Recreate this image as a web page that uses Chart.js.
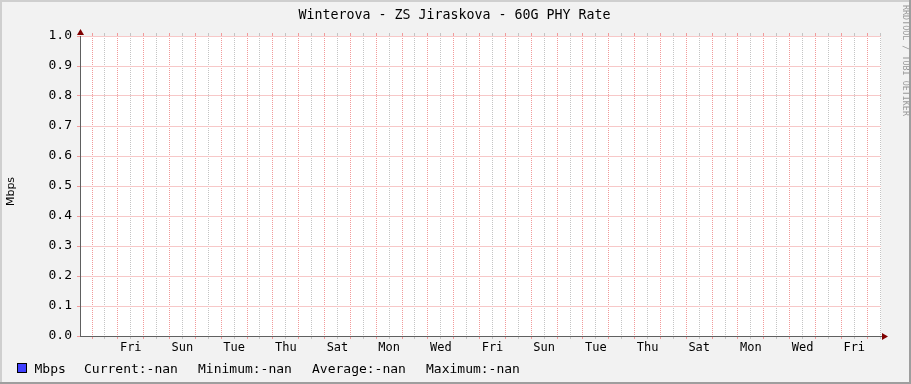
<!DOCTYPE html>
<html>
<head>
<meta charset="utf-8">
<script src="https://cdn.jsdelivr.net/npm/chart.js@4.4.1/dist/chart.umd.min.js"></script>
<style>
  html, body { margin: 0; padding: 0; background: #f2f2f2; overflow: hidden; }
  #wrap { width: 911px; height: 384px; }
</style>
</head>
<body>
<div id="wrap"><canvas id="rrdChart" width="911" height="384"></canvas></div>
<script>
// ── Data ────────────────────────────────────────────────
const chartTitle  = "Winterova - ZS Jiraskova - 60G PHY Rate";
const yAxisTitle  = "Mbps";
const watermark   = "RRDTOOL / TOBI OETIKER";
const rangeHours  = 744;     // 31 days on the x axis
const firstMidnightHour = 11.15; // first day boundary after graph start
const dayLabels   = ["Fri", "Sun", "Tue", "Thu", "Sat", "Mon", "Wed", "Fri",
                     "Sun", "Tue", "Thu", "Sat", "Mon", "Wed", "Fri"];
const yTickLabels = ["0.0", "0.1", "0.2", "0.3", "0.4", "0.5", "0.6", "0.7", "0.8", "0.9", "1.0"];
const sampleHours = [0, 186, 372, 558, 744];
const mbpsValues  = [null, null, null, null, null]; // no data -> nan
const legendName  = "Mbps";
const legendStats = ["Current:-nan", "Minimum:-nan", "Average:-nan", "Maximum:-nan"];

// ── Style ───────────────────────────────────────────────
const MONO       = "'DejaVu Sans Mono', monospace";
const majorColor = "#f19a9a";
const minorColor = "#c4c4c4";
const hGridColor = "#f7c8c8";
const axisColor  = "#606060";
const arrowColor = "#800000";

// 12h ticks: even = midnight (major), odd = noon (minor, maybe labelled)
const timeTicks = [];
for (let k = 0; firstMidnightHour + 12 * k <= rangeHours; k++) {
  const day = Math.floor(k / 2);
  let label = "";
  if (k % 2 === 1 && day >= 1 && (day - 1) % 2 === 0) label = dayLabels[(day - 1) / 2] || "";
  timeTicks.push({ value: firstMidnightHour + 12 * k, major: k % 2 === 0, label });
}

const setTimeTicks = (scale) => { scale.ticks = timeTicks.map(t => ({ value: t.value })); };
const tickColor = (c) => (timeTicks[c.index] && timeTicks[c.index].major) ? majorColor : minorColor;

// ── Decorations (frame, title, legend, arrows) ──────────
const rrdDecor = {
  id: "rrdDecor",
  beforeDraw(chart) {
    const { ctx, chartArea: a, width, height } = chart;
    ctx.save();
    ctx.fillStyle = "#f2f2f2";
    ctx.fillRect(0, 0, width, height);
    ctx.fillStyle = "#cfcfcf";
    ctx.fillRect(0, 0, width, 2);
    ctx.fillRect(0, 0, 2, height);
    ctx.fillStyle = "#9e9e9e";
    ctx.fillRect(width - 2, 0, 2, height);
    ctx.fillRect(0, height - 2, width, 2);
    ctx.fillStyle = "#ffffff";
    ctx.fillRect(a.left, a.top, a.right - a.left, a.bottom - a.top);
    ctx.restore();
  },
  afterDraw(chart) {
    const { ctx, chartArea: a } = chart;
    ctx.save();
    ctx.fillStyle = "#000";
    ctx.font = "13.3px " + MONO;
    ctx.textAlign = "center";
    ctx.textBaseline = "alphabetic";
    ctx.fillText(chartTitle, 454.5, 19);

    // y axis title
    ctx.save();
    ctx.translate(13.5, 191.5);
    ctx.rotate(-Math.PI / 2);
    ctx.font = "11px 'DejaVu Sans', sans-serif";
    ctx.textAlign = "center";
    ctx.fillText(yAxisTitle, 0, 0);
    ctx.restore();

    // watermark
    ctx.save();
    ctx.translate(905.5, 5);
    ctx.rotate(Math.PI / 2);
    ctx.font = "8.4px " + MONO;
    ctx.fillStyle = "#999999";
    ctx.textAlign = "left";
    ctx.textBaseline = "middle";
    ctx.fillText(watermark, 0, 0);
    ctx.restore();

    // arrows
    const ax = Math.round(a.left - 0.5) + 0.5;
    const ay = Math.round(a.bottom - 0.5) + 0.5;
    ctx.fillStyle = arrowColor;
    ctx.beginPath();
    ctx.moveTo(ax - 3.5, a.top - 1);
    ctx.lineTo(ax + 3.5, a.top - 1);
    ctx.lineTo(ax, a.top - 7);
    ctx.closePath();
    ctx.fill();
    ctx.beginPath();
    ctx.moveTo(a.right + 1, ay - 3.5);
    ctx.lineTo(a.right + 1, ay + 3.5);
    ctx.lineTo(a.right + 7, ay);
    ctx.closePath();
    ctx.fill();

    // legend
    ctx.fillStyle = "#4040ff";
    ctx.fillRect(18, 364, 8, 8);
    ctx.strokeStyle = "#000";
    ctx.lineWidth = 1;
    ctx.strokeRect(17.5, 363.5, 9, 9);
    ctx.fillStyle = "#000";
    ctx.font = "13px " + MONO;
    ctx.textAlign = "left";
    ctx.fillText(legendName, 34.5, 373);
    legendStats.forEach((s, i) => ctx.fillText(s, 84 + i * 114, 373));
    ctx.restore();
  }
};

// ── Chart ───────────────────────────────────────────────
const ctx = document.getElementById("rrdChart").getContext("2d");
new Chart(ctx, {
  type: "line",
  data: {
    datasets: [{
      label: legendName,
      data: sampleHours.map((h, i) => ({ x: h, y: mbpsValues[i] })),
      borderColor: "#4040ff",
      backgroundColor: "#4040ff",
      pointRadius: 0,
      spanGaps: false
    }]
  },
  options: {
    responsive: false,
    animation: false,
    devicePixelRatio: 1,
    layout: { padding: { left: 0, right: 30, top: 0, bottom: 0 } },
    plugins: {
      legend: { display: false },
      title: { display: false },
      tooltip: { enabled: false }
    },
    scales: {
      x: {
        type: "linear",
        position: "bottom",
        min: 0,
        max: rangeHours,
        afterBuildTicks: setTimeTicks,
        afterFit: (s) => { s.height = 48; },
        ticks: {
          autoSkip: false,
          maxRotation: 0,
          padding: 2,
          color: "#000",
          font: { family: MONO, size: 12 },
          callback: (v, i) => (timeTicks[i] ? timeTicks[i].label : "")
        },
        grid: { color: tickColor, tickColor: tickColor, tickLength: 3, tickBorderDash: [] },
        border: { color: axisColor, dash: [1, 1] }
      },
      x2: {
        type: "linear",
        position: "top",
        min: 0,
        max: rangeHours,
        afterBuildTicks: setTimeTicks,
        afterFit: (s) => { s.height = 36; },
        ticks: { display: false },
        grid: { drawOnChartArea: false, color: tickColor, tickColor: tickColor, tickLength: 3 },
        border: { display: false }
      },
      y: {
        min: 0,
        max: 1,
        afterFit: (s) => { s.width = 80; },
        ticks: {
          stepSize: 0.1,
          padding: 5,
          color: "#000",
          font: { family: MONO, size: 13 },
          callback: (v, i) => yTickLabels[i]
        },
        grid: { color: hGridColor, tickColor: majorColor, tickLength: 3, tickBorderDash: [] },
        border: { color: axisColor, dash: [] }
      }
    }
  },
  plugins: [rrdDecor]
});
</script>
</body>
</html>
